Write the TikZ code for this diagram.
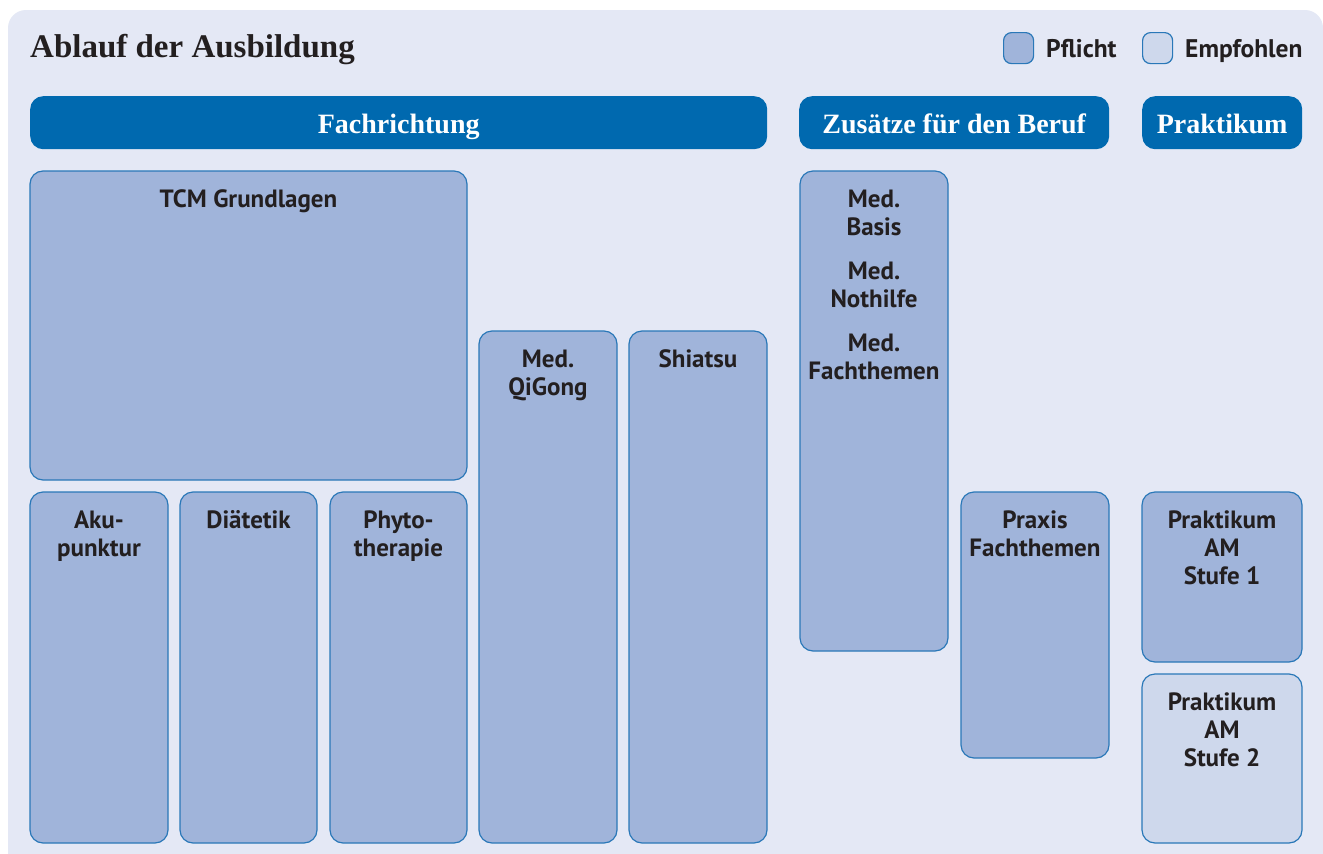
\documentclass[tikz,border=0pt]{standalone}
\usepackage{fontspec}
\newfontfamily\serfont{Liberation Serif}
\newfontfamily\sanfont{PT Sans}
\definecolor{panel}{HTML}{E4E8F5}
\definecolor{head}{HTML}{0069AF}
\definecolor{pfl}{HTML}{A0B4DA}
\definecolor{emp}{HTML}{CED8EC}
\definecolor{edge}{HTML}{2A78B8}
\definecolor{txt}{HTML}{231F20}
\newcommand\mkbox[6]{\node[#6, minimum width={#4-#2}, minimum height={#5-#3}, anchor=north west] (#1) at (#2,#3) {};}
\newcommand\mklbl[2]{\node[lbl, anchor=north, yshift=-16.4pt] (#1T) at (#1.north) {\strut#2};}
\begin{document}
\begin{tikzpicture}[x=1pt,y=-1pt,
  pflbox/.style={draw=edge, line width=1.2pt, fill=pfl, rounded corners=13pt, inner sep=0pt, outer sep=0pt},
  empbox/.style={pflbox, fill=emp},
  hdr/.style={fill=head, rounded corners=13pt, inner sep=0pt, text height=21pt, text depth=0pt, text=white, font=\serfont\bfseries\fontsize{28}{32}\selectfont},
  lbl/.style={align=center, text=txt, inner sep=0pt, font=\sanfont\bfseries\fontsize{25}{28}\selectfont},
  leg/.style={text=txt, inner sep=0pt, anchor=base west, font=\sanfont\bfseries\fontsize{25.5}{28}\selectfont},
  swatch/.style={draw=edge, line width=1.2pt, rounded corners=8pt, minimum width=30pt, minimum height=31pt, inner sep=0pt, anchor=north west}]
\useasboundingbox (0,0) rectangle (1323,854);
\fill[white] (0,0) rectangle (1323,854);
\fill[panel, rounded corners=18pt] (8,10) rectangle (1323,900);
% title
\node[anchor=base west, inner sep=0pt, text=txt, font=\serfont\bfseries\fontsize{33}{36}\selectfont] (title) at (30,57) {Ablauf der Ausbildung};
% legend
\node[swatch, fill=pfl] (sw1) at (1003,32) {};
\node[leg] (l1) at (1046,57.5) {Pflicht};
\node[swatch, fill=emp] (sw2) at (1142,32) {};
\node[leg] (l2) at (1185,57.5) {Empfohlen};
% headers
\node[hdr, minimum width=737pt, minimum height=53pt, anchor=north west] (fach) at (30,96) {Fachrichtung};
\node[hdr, minimum width=310pt, minimum height=53pt, anchor=north west] (zus) at (799,96) {Zusätze für den Beruf};
\node[hdr, minimum width=160pt, minimum height=53pt, anchor=north west] (prak) at (1142,96) {Praktikum};
% boxes
\mkbox{tcm}{30}{171}{467}{480}{pflbox}
\mklbl{tcm}{TCM Grundlagen}
\mkbox{aku}{30}{492}{168}{843}{pflbox}
\mklbl{aku}{Aku-\\punktur}
\mkbox{dia}{180}{492}{317}{843}{pflbox}
\mklbl{dia}{Diätetik}
\mkbox{phy}{330}{492}{467}{843}{pflbox}
\mklbl{phy}{Phyto-\\therapie}
\mkbox{qig}{479}{331}{617}{843}{pflbox}
\mklbl{qig}{Med.\\QiGong}
\mkbox{shi}{629}{331}{767}{843}{pflbox}
\mklbl{shi}{Shiatsu}
\mkbox{med}{800}{171}{948}{651}{pflbox}
\mklbl{med}{Med.\\Basis\\[16pt]Med.\\Nothilfe\\[16pt]Med.\\Fachthemen}
\mkbox{pra}{961}{492}{1109}{758}{pflbox}
\mklbl{pra}{Praxis\\Fachthemen}
\mkbox{st1}{1142}{492}{1302}{662}{pflbox}
\mklbl{st1}{Praktikum\\AM\\Stufe 1}
\mkbox{st2}{1142}{674}{1302}{843}{empbox}
\mklbl{st2}{Praktikum\\AM\\Stufe 2}
\end{tikzpicture}
\end{document}
